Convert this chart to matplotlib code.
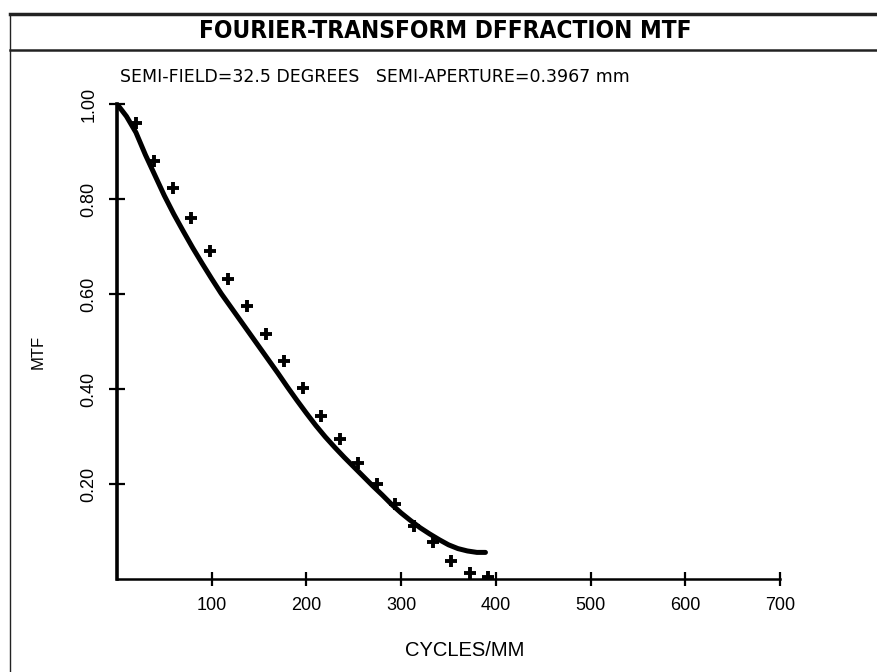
import matplotlib
matplotlib.use("Agg")
import matplotlib.pyplot as plt
from matplotlib.lines import Line2D
from matplotlib import font_manager as fm

# ---- data ----
curve_x = [0, 10, 20, 30, 40, 50, 60, 70, 80, 90, 100, 110, 120, 130, 140, 150, 160, 170,
           180, 190, 200, 210, 220, 230, 240, 250, 260, 270, 280, 290, 300, 310, 320, 330,
           340, 350, 360, 370, 380, 389]
curve_y = [1.0, 0.974, 0.94, 0.893, 0.85, 0.807, 0.768, 0.732, 0.697, 0.664, 0.632, 0.601,
           0.573, 0.545, 0.517, 0.489, 0.461, 0.433, 0.404, 0.376, 0.349, 0.323, 0.299,
           0.277, 0.256, 0.236, 0.216, 0.196, 0.177, 0.157, 0.139, 0.123, 0.108, 0.095,
           0.083, 0.072, 0.064, 0.059, 0.056, 0.056]

marker_x = [19.6, 39.2, 58.8, 78.4, 98, 117.6, 137.2, 156.8, 176.4, 196, 215.6, 235.2,
            254.8, 274.4, 294, 313.6, 333.2, 352.8, 372.4, 392]
marker_y = [0.96, 0.88, 0.823, 0.76, 0.69, 0.632, 0.575, 0.515, 0.46, 0.402, 0.343, 0.295,
            0.244, 0.200, 0.158, 0.111, 0.078, 0.038, 0.013, 0.004]

x_ticks = [100, 200, 300, 400, 500, 600, 700]
x_ticklabels = ["100", "200", "300", "400", "500", "600", "700"]
y_ticks = [0.2, 0.4, 0.6, 0.8, 1.0]
y_ticklabels = ["0.20", "0.40", "0.60", "0.80", "1.00"]

title = "FOURIER-TRANSFORM DFFRACTION MTF"
subtitle = "SEMI-FIELD=32.5 DEGREES   SEMI-APERTURE=0.3967 mm"
xlabel = "CYCLES/MM"
ylabel = "MTF"

# font availability
fonts = fm.fontManager.ttflist
names = {f.name for f in fonts}
has_narrow = "Liberation Sans Narrow" in names
has_dj_cond = any(f.name == "DejaVu Sans" and "condensed" in str(f.stretch) for f in fonts)
if has_narrow:
    title_kw = dict(family="Liberation Sans Narrow", fontsize=20, fontweight="bold")
    ytick_family = "Liberation Sans Narrow"
elif has_dj_cond:
    title_kw = dict(family="DejaVu Sans", fontstretch="condensed", fontsize=17.5, fontweight="bold")
    ytick_family = "Liberation Sans"
else:
    title_kw = dict(family="Liberation Sans", fontsize=18, fontweight="bold")
    ytick_family = "Liberation Sans"

W, H = 878, 672
fig = plt.figure(figsize=(W / 100, H / 100), dpi=100)
fig.patch.set_facecolor("white")

ax = fig.add_axes([117 / W, 1 - 579 / H, (780 - 117) / W, (579 - 104) / H])
ax.set_xlim(0, 700)
ax.set_ylim(0, 1.0)

ax.plot(curve_x, curve_y, color="black", lw=3.6, solid_capstyle="round",
        solid_joinstyle="round", zorder=3)
ax.plot(marker_x, marker_y, linestyle="none", marker="+", color="black",
        markersize=9, markeredgewidth=2.8, zorder=4)

for s in ["top", "right"]:
    ax.spines[s].set_visible(False)
ax.spines["left"].set_linewidth(2.6)
ax.spines["bottom"].set_linewidth(1.8)

ax.set_xticks(x_ticks)
ax.set_xticklabels(x_ticklabels, fontsize=13, family="Liberation Sans")
ax.set_yticks(y_ticks)
ax.set_yticklabels(y_ticklabels, fontsize=13, rotation=90, va="center",
                   family=ytick_family)
ax.tick_params(axis="x", direction="inout", length=10, width=1.6, pad=8)
ax.tick_params(axis="y", direction="inout", length=12, width=1.6, pad=8)

fig.text(465 / W, 1 - 650 / H, xlabel, ha="center", va="center", fontsize=14.5,
         family="Liberation Sans")
fig.text(38 / W, 1 - 352 / H, ylabel, ha="center", va="center", fontsize=12,
         rotation=90, family="Liberation Sans")

fig.text(445 / W, 1 - 31 / H, title, ha="center", va="center", **title_kw)
fig.text(120 / W, 1 - 77 / H, subtitle, ha="left", va="center", fontsize=12.5,
         family="DejaVu Sans")

# frame lines
fig.add_artist(Line2D([10 / W, 1], [1 - 14 / H, 1 - 14 / H], color="#222222", lw=2.5))
fig.add_artist(Line2D([10 / W, 1], [1 - 50 / H, 1 - 50 / H], color="#222222", lw=1.8))
fig.add_artist(Line2D([10 / W, 10 / W], [1 - 14 / H, 0], color="#222222", lw=1.0))

fig.savefig("out.png", dpi=100, facecolor="white")
